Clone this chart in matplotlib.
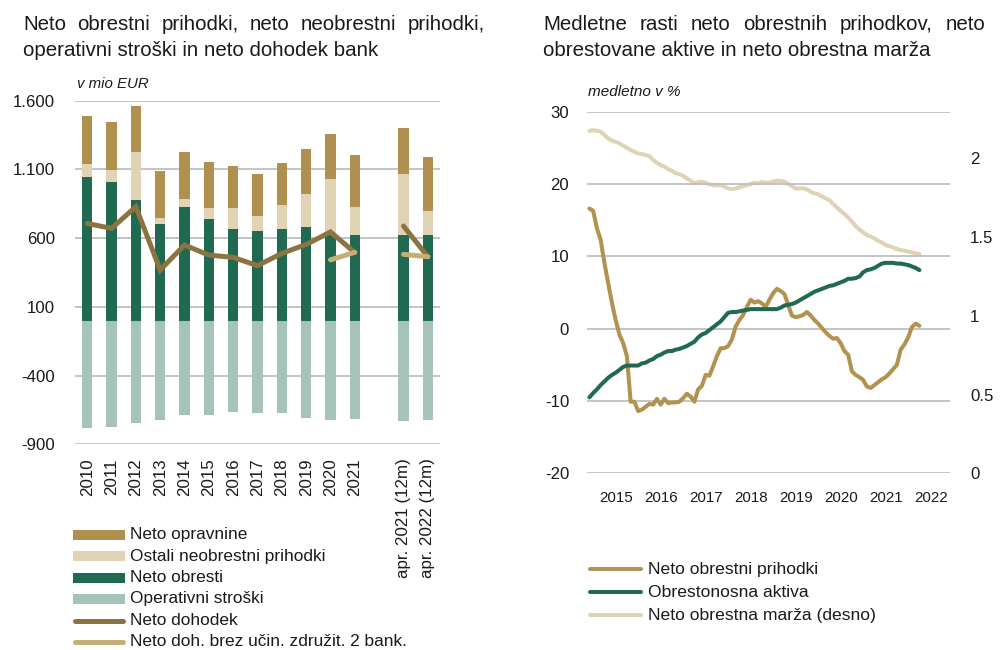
import numpy as np
import matplotlib
matplotlib.use("Agg")
import matplotlib.pyplot as plt
from matplotlib.lines import Line2D

plt.rcParams['font.family'] = ['Liberation Sans', 'DejaVu Sans']
TXT = '#1a1a1a'

# ---------------- data: left chart (mio EUR) ----------------
categories = ['2010', '2011', '2012', '2013', '2014', '2015', '2016', '2017', '2018',
              '2019', '2020', '2021', 'apr. 2021 (12m)', 'apr. 2022 (12m)']
neto_obresti = [1044, 1012, 881, 705, 828, 741, 663, 649, 666, 680, 630, 624, 622, 622]
ostali_neobrestni = [94, 87, 344, 43, 56, 80, 155, 109, 172, 240, 399, 206, 443, 175]
neto_opravnine = [351, 344, 337, 342, 344, 332, 305, 310, 312, 332, 329, 372, 339, 392]
operativni_stroski = [-782, -777, -743, -722, -688, -688, -668, -673, -671, -712, -722, -719, -731, -726]
neto_dohodek = [707, 671, 828, 368, 550, 477, 460, 400, 489, 554, 645, 495, 688, 465]
neto_doh_brez = [None, None, None, None, None, None, None, None, None, None, 442, 497, 482, 465]
left_yticks = [-900, -400, 100, 600, 1100, 1600]

# ---------------- data: right chart (medletno v %) ----------------
start_year, start_month = 2014, 12   # first monthly observation (Dec 2014), last Apr 2022
neto_obrestni_prihodki = [
    16.6, 16.3, 13.9, 12.3, 9.1, 6.3, 3.6, 1.2, -0.8, -2.0, -3.8, -10.1,
    -10.1, -11.4, -11.2, -10.8, -10.4, -10.5, -9.7, -10.5, -9.7, -10.3, -10.2, -10.2,
    -10.1, -9.6, -9.0, -9.4, -10.1, -8.4, -7.9, -6.4, -6.5, -5.2, -3.8, -2.7,
    -2.7, -2.4, -1.5, 0.3, 1.2, 1.9, 3.0, 4.0, 3.6, 3.8, 3.5, 3.0,
    4.0, 4.9, 5.5, 5.2, 4.8, 3.3, 1.8, 1.6, 1.7, 1.9, 2.3, 1.8,
    1.2, 0.7, 0.1, -0.5, -1.0, -1.4, -1.3, -2.0, -3.1, -3.6, -5.9, -6.4,
    -6.7, -7.1, -8.0, -8.2, -7.8, -7.4, -7.0, -6.7, -6.2, -5.6, -5.0, -2.9,
    -2.2, -1.2, 0.2, 0.7, 0.4]
obrestonosna_aktiva = [
    -9.5, -8.9, -8.4, -7.8, -7.3, -6.8, -6.4, -6.1, -5.7, -5.3, -5.1, -5.1,
    -5.1, -5.1, -4.8, -4.7, -4.4, -4.2, -3.8, -3.6, -3.3, -3.1, -3.1, -2.9,
    -2.8, -2.6, -2.4, -2.1, -1.8, -1.2, -0.8, -0.6, -0.2, 0.2, 0.6, 1.0,
    1.6, 2.2, 2.3, 2.3, 2.4, 2.5, 2.6, 2.7, 2.7, 2.7, 2.7, 2.7,
    2.7, 2.7, 2.7, 2.9, 3.2, 3.3, 3.4, 3.6, 3.9, 4.2, 4.5, 4.8,
    5.1, 5.3, 5.5, 5.7, 5.9, 6.0, 6.2, 6.4, 6.6, 6.9, 6.9, 7.0,
    7.2, 7.8, 8.1, 8.2, 8.4, 8.7, 9.0, 9.1, 9.1, 9.1, 9.0, 9.0,
    8.9, 8.8, 8.6, 8.4, 8.1]
neto_obrestna_marza = [
    2.172, 2.178, 2.174, 2.168, 2.147, 2.126, 2.111, 2.104, 2.094, 2.079, 2.066, 2.052,
    2.041, 2.030, 2.026, 2.020, 2.013, 1.988, 1.971, 1.956, 1.946, 1.931, 1.920, 1.904,
    1.899, 1.887, 1.872, 1.857, 1.840, 1.849, 1.851, 1.844, 1.834, 1.829, 1.829, 1.827,
    1.819, 1.808, 1.804, 1.808, 1.815, 1.823, 1.829, 1.836, 1.844, 1.840, 1.849, 1.844,
    1.844, 1.851, 1.857, 1.855, 1.851, 1.836, 1.823, 1.808, 1.808, 1.808, 1.802, 1.787,
    1.777, 1.772, 1.756, 1.745, 1.734, 1.709, 1.688, 1.665, 1.646, 1.624, 1.597, 1.569,
    1.548, 1.529, 1.512, 1.502, 1.491, 1.476, 1.464, 1.449, 1.442, 1.434, 1.423, 1.417,
    1.413, 1.407, 1.402, 1.396, 1.392]
year_labels = ['2015', '2016', '2017', '2018', '2019', '2020', '2021', '2022']
right_yticks = [-20, -10, 0, 10, 20, 30]
right2_yticks = [0, 0.5, 1, 1.5, 2]

# ---------------- colours ----------------
C_OPR = '#B0904E'
C_OST = '#E0D4B5'
C_OBR = '#1F6A51'
C_STR = '#A6C3B7'
C_DOH = '#8B7442'
C_BREZ = '#C7AE74'
C_GOLD = '#B2924F'
C_GREEN = '#1F6A51'
C_BEIGE = '#E0D3B4'
C_GRID = '#BFBFBF'

W, H = 1006, 650
fig = plt.figure(figsize=(W / 100, H / 100), dpi=100)


def fx(px):
    return px / W


def fy(py):
    return 1 - py / H


def axes_px(x0, y0, x1, y1):
    return fig.add_axes([fx(x0), fy(y1), (x1 - x0) / W, (y1 - y0) / H])


# ---------------- left chart ----------------
axL = axes_px(75, 100.7, 440, 444.3)
pos = np.array(list(range(12)) + [13, 14], dtype=float)
bw = 0.42
obr = np.array(neto_obresti, float)
ost = np.array(ostali_neobrestni, float)
opr = np.array(neto_opravnine, float)
axL.bar(pos, operativni_stroski, bw, color=C_STR, zorder=2)
axL.bar(pos, obr, bw, color=C_OBR, zorder=2)
axL.bar(pos, ost, bw, bottom=obr, color=C_OST, zorder=2)
axL.bar(pos, opr, bw, bottom=obr + ost, color=C_OPR, zorder=2)
doh = np.array(neto_dohodek, float)
axL.plot(pos[:12], doh[:12], color=C_DOH, lw=3.6, solid_capstyle='round', solid_joinstyle='miter', zorder=3)
axL.plot(pos[12:], doh[12:], color=C_DOH, lw=3.6, solid_capstyle='round', zorder=3)
brez = np.array([np.nan if v is None else v for v in neto_doh_brez], float)
axL.plot(pos[10:12], brez[10:12], color=C_BREZ, lw=3.6, solid_capstyle='round', zorder=3)
axL.plot(pos[12:], brez[12:], color=C_BREZ, lw=3.6, solid_capstyle='round', zorder=3)
axL.set_xlim(-0.5, 14.5)
axL.set_ylim(-900, 1600)
axL.set_yticks(left_yticks)
axL.set_yticklabels([f'{v:,}'.replace(',', '.') for v in left_yticks])
axL.set_xticks(pos)
axL.set_xticklabels(categories, rotation=90, va='top', ha='center')
axL.grid(axis='y', color=C_GRID, lw=1.3, zorder=0)
axL.set_axisbelow(True)
for s in axL.spines.values():
    s.set_visible(False)
axL.tick_params(axis='y', length=0, pad=14.4, labelsize=12.1, labelcolor=TXT)
axL.tick_params(axis='x', length=0, pad=10, labelsize=12.2, labelcolor=TXT)

# ---------------- right chart ----------------
axR = axes_px(587.3, 111.7, 950, 473.3)
months = np.arange(len(neto_obrestni_prihodki))
xdates = start_year + (start_month - 1) / 12 + months / 12
axR2 = axR.twinx()
axR2.plot(xdates, neto_obrestna_marza, color=C_BEIGE, lw=2.9, solid_capstyle='round', zorder=2)
axR.plot(xdates, neto_obrestni_prihodki, color=C_GOLD, lw=2.9, solid_capstyle='round', zorder=3)
axR.plot(xdates, obrestonosna_aktiva, color=C_GREEN, lw=2.9, solid_capstyle='round', zorder=3)
axR.set_zorder(axR2.get_zorder() + 1)
axR.patch.set_visible(False)
axR.set_xlim(2014.87, 2022.93)
axR.set_ylim(-20, 30)
axR2.set_ylim(0, 2.295)
axR.set_yticks(right_yticks)
axR.set_yticklabels([str(v) for v in right_yticks])
axR2.set_yticks(right2_yticks)
axR2.set_yticklabels(['0', '0.5', '1', '1.5', '2'])
axR.set_xticks([int(y) + 0.5 for y in year_labels])
axR.set_xticklabels(year_labels)
axR.grid(axis='y', color=C_GRID, lw=1.3, zorder=0)
for a in (axR, axR2):
    for s in a.spines.values():
        s.set_visible(False)
axR.tick_params(axis='y', length=0, pad=13, labelsize=12.1, labelcolor=TXT)
axR.tick_params(axis='x', length=0, pad=13, labelsize=10.9, labelcolor=TXT)
axR2.tick_params(axis='y', length=0, pad=14.4, labelsize=12.1, labelcolor=TXT)

# ---------------- titles ----------------
renderer = fig.canvas.get_renderer()


def justified(words, x0, x1, y, **kw):
    texts = [fig.text(0, 0, w, va='center', ha='left', color=TXT, **kw) for w in words]
    widths = [t.get_window_extent(renderer).width for t in texts]
    gap = ((x1 - x0) - sum(widths)) / (len(words) - 1)
    x = x0
    for t, w in zip(texts, widths):
        t.set_position((fx(x), fy(y)))
        x += w + gap


TS = 14.8
justified('Neto obrestni prihodki, neto neobrestni prihodki,'.split(), 23, 485, 24, fontsize=TS)
fig.text(fx(23), fy(51), 'operativni stroški in neto dohodek bank', fontsize=TS, va='center', color=TXT)
justified('Medletne rasti neto obrestnih prihodkov, neto'.split(), 543, 985, 24, fontsize=TS)
fig.text(fx(543), fy(51), 'obrestovane aktive in neto obrestna marža', fontsize=TS, va='center', color=TXT)

fig.text(fx(77), fy(84), 'v mio EUR', fontsize=10.8, style='italic', va='center', color=TXT)
fig.text(fx(588), fy(92), 'medletno v %', fontsize=11, style='italic', va='center', color=TXT)

# ---------------- legends ----------------
left_leg = [('Neto opravnine', C_OPR, 'bar'), ('Ostali neobrestni prihodki', C_OST, 'bar'),
            ('Neto obresti', C_OBR, 'bar'), ('Operativni stroški', C_STR, 'bar'),
            ('Neto dohodek', C_DOH, 'line'), ('Neto doh. brez učin. združit. 2 bank.', C_BREZ, 'line')]
for i, (lab, col, kind) in enumerate(left_leg):
    y = 534.5 + i * 21.5
    if kind == 'bar':
        fig.add_artist(Line2D([fx(73), fx(125)], [fy(y), fy(y)], transform=fig.transFigure,
                              color=col, lw=7.2, solid_capstyle='butt'))
    else:
        fig.add_artist(Line2D([fx(75), fx(123)], [fy(y), fy(y)], transform=fig.transFigure,
                              color=col, lw=3.6, solid_capstyle='round'))
    fig.text(fx(130), fy(y), lab, fontsize=12.4, va='center', color=TXT)

right_leg = [('Neto obrestni prihodki', C_GOLD), ('Obrestonosna aktiva', C_GREEN),
             ('Neto obrestna marža (desno)', C_BEIGE)]
for i, (lab, col) in enumerate(right_leg):
    y = 569.3 + i * 23
    fig.add_artist(Line2D([fx(590), fx(641)], [fy(y), fy(y)], transform=fig.transFigure,
                          color=col, lw=2.9, solid_capstyle='round'))
    fig.text(fx(648), fy(y), lab, fontsize=12.6, va='center', color=TXT)

fig.savefig('out.png', dpi=100)
